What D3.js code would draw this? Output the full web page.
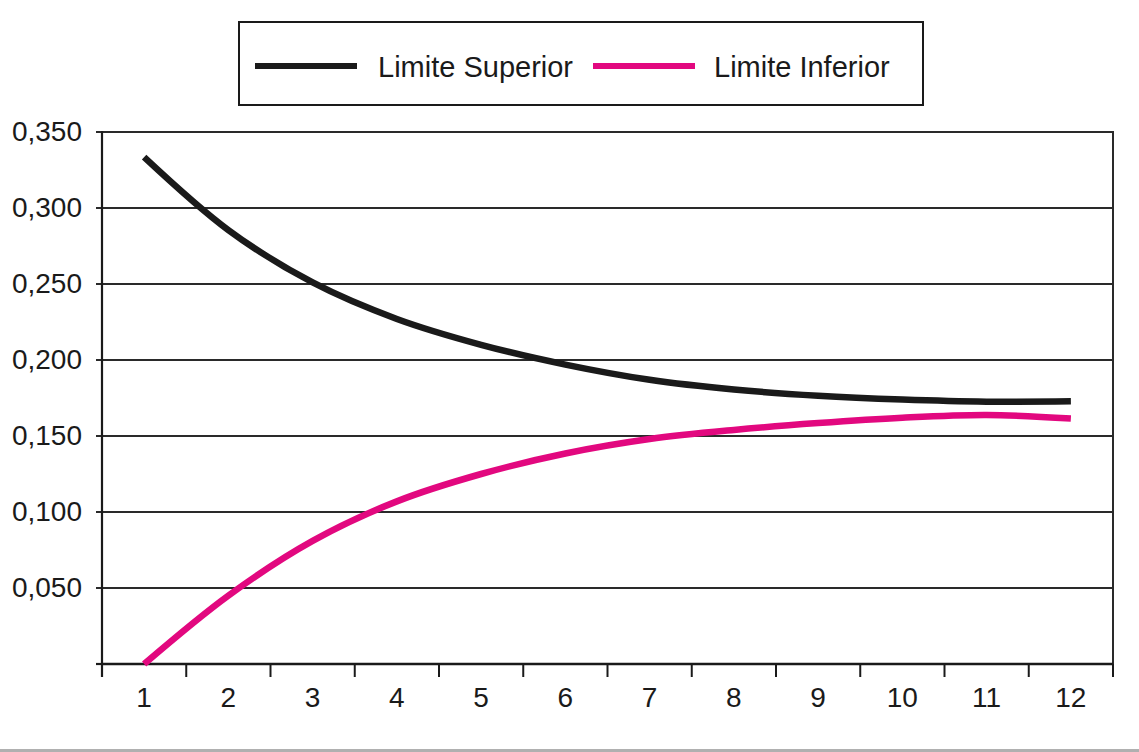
<!DOCTYPE html>
<html>
<head>
<meta charset="utf-8">
<script src="https://cdn.jsdelivr.net/npm/d3@7/dist/d3.min.js"></script>
<style>
  html, body { margin: 0; padding: 0; background: #fff; }
  svg { display: block; }
  text { font-family: "Liberation Sans", Arial, sans-serif; fill: #1a1a1a; }
</style>
</head>
<body>
<svg id="chart" width="1139" height="752"></svg>
<script>
const categories = ["1","2","3","4","5","6","7","8","9","10","11","12"];
const limiteSuperior = [0.3335, 0.2855, 0.251, 0.227, 0.210, 0.197, 0.187, 0.1806, 0.1765, 0.1740, 0.1726, 0.1728];
const limiteInferior = [0.000, 0.045, 0.081, 0.107, 0.125, 0.1385, 0.148, 0.154, 0.1585, 0.1620, 0.1638, 0.1615];
const yTicks = [0.05, 0.10, 0.15, 0.20, 0.25, 0.30, 0.35];
const seriesNames = ["Limite Superior", "Limite Inferior"];
const seriesColors = ["#1a1a1a", "#e2087f"];

(function () {
const svg = d3.select("#chart");
const pLeft = 102, pRight = 1113, pTop = 132, pBottom = 664;

const x = d3.scaleBand().domain(categories).range([pLeft, pRight]).padding(0);
const y = d3.scaleLinear().domain([0, 0.35]).range([pBottom, pTop]);

// bottom gray rule
svg.append("rect").attr("x", 0).attr("y", 749).attr("width", 1139).attr("height", 3).attr("fill", "#b0b0b0");

// gridlines
svg.append("g").selectAll("line").data(yTicks).join("line")
  .attr("x1", pLeft - 6).attr("x2", pRight)
  .attr("y1", d => y(d)).attr("y2", d => y(d))
  .attr("stroke", "#2a2a2a").attr("stroke-width", 2);

// right border
svg.append("line").attr("x1", pRight).attr("x2", pRight).attr("y1", pTop - 1).attr("y2", pBottom + 13)
  .attr("stroke", "#2a2a2a").attr("stroke-width", 2);

// Y axis
const yAxis = d3.axisLeft(y).tickValues(yTicks).tickSize(0).tickPadding(20)
  .tickFormat(d => d3.format(".3f")(d).replace(".", ","));
const gy = svg.append("g").attr("transform", `translate(${pLeft},0)`).call(yAxis);
gy.select(".domain").remove();
gy.append("line").attr("x1", 0).attr("x2", 0).attr("y1", pTop - 1).attr("y2", pBottom + 13)
  .attr("stroke", "#1a1a1a").attr("stroke-width", 2.2);
gy.append("line").attr("x1", -6).attr("x2", 0).attr("y1", pBottom).attr("y2", pBottom)
  .attr("stroke", "#1a1a1a").attr("stroke-width", 2.2);
gy.selectAll("text").attr("font-size", 28).attr("fill", "#1a1a1a");

// X axis
const xAxis = d3.axisBottom(x).tickSize(0).tickPadding(23);
const gx = svg.append("g").attr("transform", `translate(0,${pBottom})`).call(xAxis);
gx.select(".domain").remove();
gx.append("line").attr("x1", pLeft).attr("x2", pRight).attr("y1", 0).attr("y2", 0)
  .attr("stroke", "#1a1a1a").attr("stroke-width", 2.5);
gx.selectAll("text").attr("font-size", 28).attr("fill", "#1a1a1a");
// category boundary ticks
const bounds = categories.map(c => x(c)).concat([x(categories[categories.length - 1]) + x.bandwidth()]);
gx.append("g").selectAll("line").data(bounds).join("line")
  .attr("x1", d => d).attr("x2", d => d).attr("y1", 0).attr("y2", 13)
  .attr("stroke", "#1a1a1a").attr("stroke-width", 2);

// lines
const line = d3.line()
  .x((d, i) => x(categories[i]) + x.bandwidth() / 2)
  .y(d => y(d))
  .curve(d3.curveCatmullRom.alpha(0.5));

[limiteSuperior, limiteInferior].forEach((s, i) => {
  svg.append("path").datum(s).attr("d", line)
    .attr("fill", "none").attr("stroke", seriesColors[i]).attr("stroke-width", 6.5);
});

// legend
const lg = svg.append("g");
lg.append("rect").attr("x", 239).attr("y", 22).attr("width", 684).attr("height", 83)
  .attr("fill", "#fff").attr("stroke", "#1a1a1a").attr("stroke-width", 2);
const legendItems = [
  { name: seriesNames[0], color: seriesColors[0], x1: 255, x2: 357, tx: 378 },
  { name: seriesNames[1], color: seriesColors[1], x1: 593, x2: 695, tx: 714 }
];
legendItems.forEach(it => {
  lg.append("line").attr("x1", it.x1).attr("x2", it.x2).attr("y1", 66).attr("y2", 66)
    .attr("stroke", it.color).attr("stroke-width", 6);
  lg.append("text").attr("x", it.tx).attr("y", 77).attr("font-size", 29).text(it.name);
});
})();
</script>
</body>
</html>
